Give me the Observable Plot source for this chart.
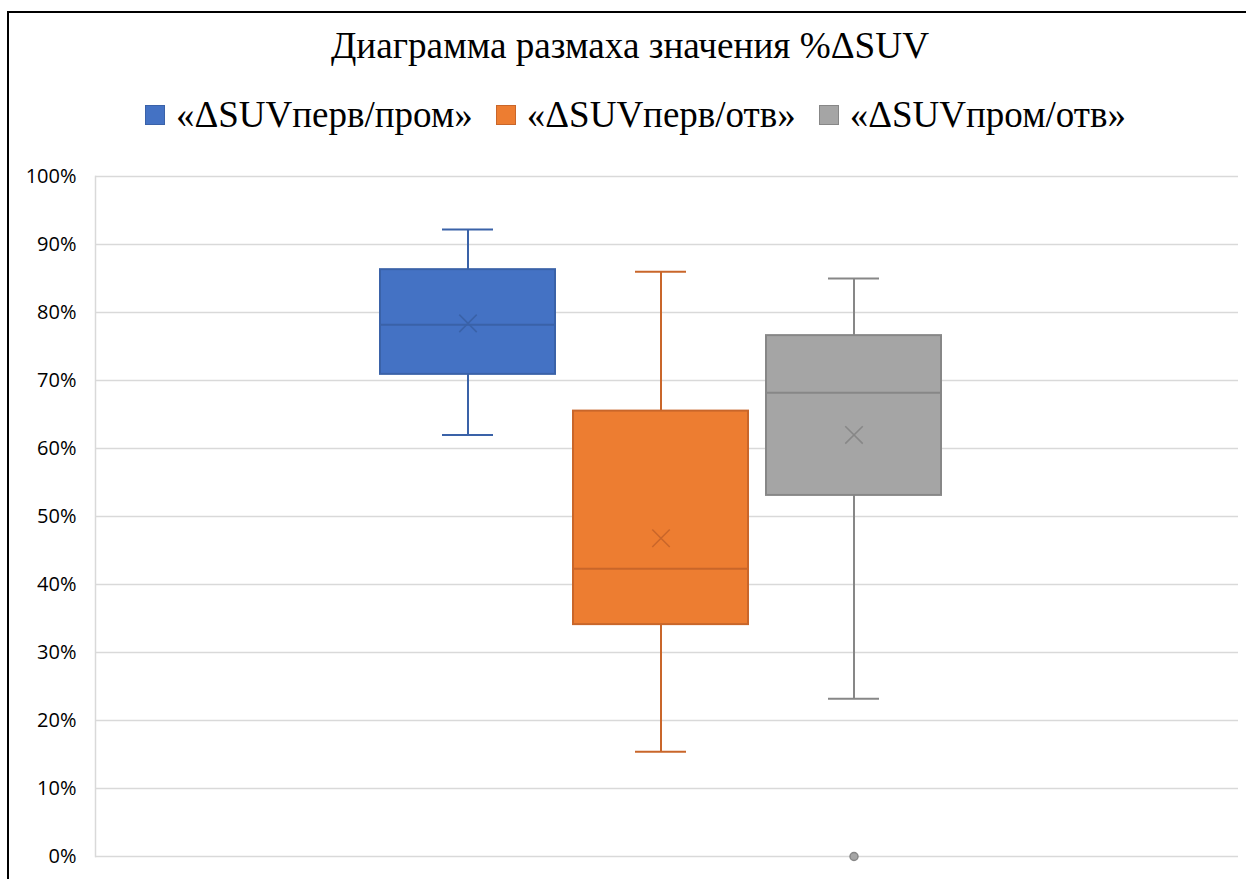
<!DOCTYPE html>
<html lang="ru">
<head>
<meta charset="utf-8">
<script src="https://cdn.jsdelivr.net/npm/d3@7"></script>
<script src="https://cdn.jsdelivr.net/npm/@observablehq/plot@0.6"></script>
<style>
  html, body { margin: 0; padding: 0; background: #fff; overflow: hidden; }
  #page { position: relative; width: 1246px; height: 879px; overflow: hidden; }
  #border { position: absolute; left: 7px; top: 11px; width: 1400px; height: 1000px;
            border: 2px solid #000; box-sizing: border-box; pointer-events: none; }
  #header { position: relative; height: 150px; }
  #title { position: absolute; left: 0; top: 27px; width: 1260px; text-align: center;
           font-family: "Liberation Serif", "Times New Roman", serif; font-size: 37.2px;
           line-height: 1; color: #000; white-space: nowrap; }
  #legend { position: absolute; left: 0; top: 96px; width: 1271px; display: flex;
            justify-content: center; align-items: center; gap: 23px;
            font-family: "Liberation Serif", "Times New Roman", serif; font-size: 37px;
            line-height: 1; color: #000; white-space: nowrap; }
  .item { display: flex; align-items: center; gap: 11px; }
  .swatch { width: 20px; height: 20px; box-sizing: border-box; border: 1px solid; }
  #chart svg { display: block; }
</style>
</head>
<body>
<div id="page">
  <div id="header">
    <div id="title">Диаграмма размаха значения %ΔSUV</div>
    <div id="legend"></div>
  </div>
  <div id="chart"></div>
  <div id="border"></div>
</div>
<script>
// Series names and five-number summaries (fractions of 1)
const series  = ["«ΔSUVперв/пром»", "«ΔSUVперв/отв»", "«ΔSUVпром/отв»"];
const minimum = [0.620, 0.154, 0.232];
const q1      = [0.709, 0.341, 0.531];
const median  = [0.782, 0.423, 0.682];
const q3      = [0.863, 0.655, 0.766];
const maximum = [0.922, 0.860, 0.850];
const mean    = [0.784, 0.468, 0.620];
const outliers = [[], [], [0.0]];

// Box fills and darker outline colours per series
const fills   = ["#4472c4", "#ed7d31", "#a5a5a5"];
const strokes = ["#3a62a8", "#c9662a", "#878787"];

// Y axis ticks (0% .. 100%)
const yTicks = [0, 0.1, 0.2, 0.3, 0.4, 0.5, 0.6, 0.7, 0.8, 0.9, 1.0];

const rows = series.map((s, i) => ({
  series: s, min: minimum[i], q1: q1[i], median: median[i], q3: q3[i],
  max: maximum[i], mean: mean[i], fill: fills[i], stroke: strokes[i]
}));
const outlierRows = series.flatMap((s, i) =>
  outliers[i].map(v => ({series: s, value: v, fill: fills[i], stroke: strokes[i]})));

// Legend
const legend = document.getElementById("legend");
series.forEach((s, i) => {
  const item = document.createElement("div");
  item.className = "item";
  const sw = document.createElement("span");
  sw.className = "swatch";
  sw.style.background = fills[i];
  sw.style.borderColor = strokes[i];
  const label = document.createElement("span");
  label.textContent = s;
  item.append(sw, label);
  legend.append(item);
});

const grid = "#d9d9d9";

const chart = Plot.plot({
  width: 1246,
  height: 729,
  marginLeft: 95,
  marginRight: 8,
  marginTop: 26,
  marginBottom: 23,
  style: {fontFamily: "'Open Sans', sans-serif", fontSize: "20px", color: "#000", background: "transparent"},
  x: {type: "band", domain: series, range: [379.5, 942.5], paddingInner: 0.093, paddingOuter: 0, axis: null},
  y: {domain: [0, 1]},
  color: {type: "identity"},
  marks: [
    Plot.ruleY(yTicks, {stroke: grid, strokeWidth: 1.5}),
    Plot.frame({anchor: "left", stroke: grid, strokeWidth: 1.5}),
    Plot.axisY(yTicks, {tickSize: 0, tickPadding: 19, tickFormat: d3.format(".0%"), fill: "#000"}),
    // whiskers
    Plot.ruleX(rows, {x: "series", y1: "min", y2: "q1", stroke: "stroke", strokeWidth: 2}),
    Plot.ruleX(rows, {x: "series", y1: "q3", y2: "max", stroke: "stroke", strokeWidth: 2}),
    Plot.tickY(rows, {x: "series", y: "min", stroke: "stroke", strokeWidth: 2, insetLeft: 62, insetRight: 62}),
    Plot.tickY(rows, {x: "series", y: "max", stroke: "stroke", strokeWidth: 2, insetLeft: 62, insetRight: 62}),
    // interquartile box
    Plot.barY(rows, {x: "series", y1: "q1", y2: "q3", fill: "fill", stroke: "stroke", strokeWidth: 2}),
    // median line
    Plot.tickY(rows, {x: "series", y: "median", stroke: "stroke", strokeWidth: 2}),
    // mean marker
    Plot.dot(rows, {x: "series", y: "mean", symbol: "times", r: 8, stroke: "stroke", strokeWidth: 1.5}),
    // outliers
    Plot.dot(outlierRows, {x: "series", y: "value", r: 4, fill: "fill", stroke: "stroke", strokeWidth: 1.5})
  ]
});
document.getElementById("chart").append(chart);
</script>
</body>
</html>
